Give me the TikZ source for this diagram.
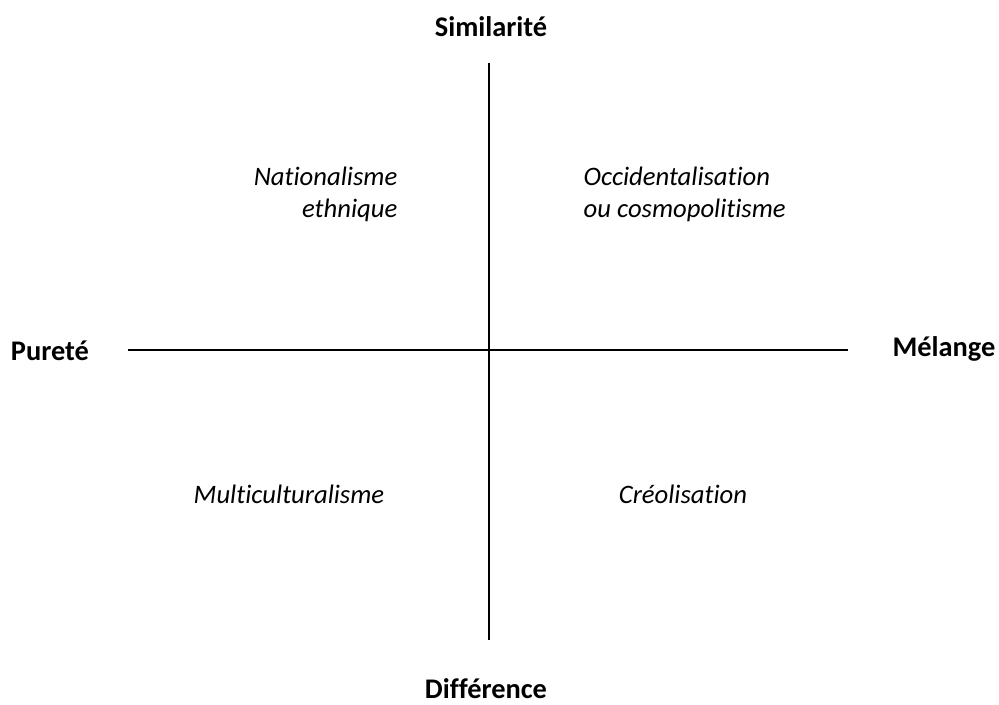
\documentclass[tikz,border=0pt]{standalone}
\usepackage{fontspec}
\setmainfont{Carlito}[Ligatures=NoCommon]
\usepackage{tikz}

\tikzset{
  axe/.style={line width=1.5pt},
  pole/.style={font=\fontsize{21.3}{25}\selectfont\bfseries},
  quadrant/.style={font=\fontsize{20}{24}\selectfont\itshape}
}

\begin{document}
\begin{tikzpicture}[x=0.75pt,y=-0.75pt]
\useasboundingbox (0,0) rectangle (999,704);

\coordinate (haut) at (489,63);
\coordinate (bas) at (489,640);
\coordinate (gauche) at (128,350);
\coordinate (droite) at (848,350);

\draw[axe] (haut) -- (bas);
\draw[axe] (gauche) -- (droite);

\node[pole] (sim) at (491,27) {Similarité};
\node[pole] (dif) at (486,689) {Différence};
\node[pole] (pur) at (50,351) {Pureté};
\node[pole] (mel) at (944,349) {Mélange};

\node[quadrant,align=right,anchor=east] (nat) at (402,194) {Nationalisme\\ethnique};
\node[quadrant,align=left,anchor=west] (occ) at (579,194) {Occidentalisation\\ou cosmopolitisme};
\node[quadrant] (mul) at (289,494) {Multiculturalisme};
\node[quadrant] (cre) at (683,494) {Créolisation};
\end{tikzpicture}
\end{document}
